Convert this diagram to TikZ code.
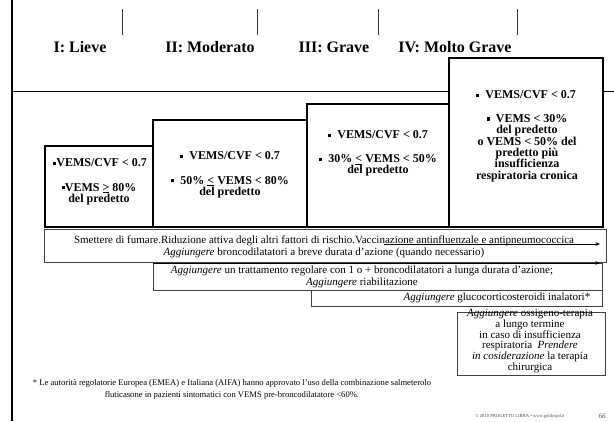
\documentclass[tikz,border=0pt]{standalone}
\usepackage{fontspec}
\setmainfont{Liberation Serif}
\usetikzlibrary{arrows.meta}
\newcommand{\sqb}{\rule[0.3ex]{0.27em}{0.27em}}
\newcommand{\ule}{\underline{<}}
\newcommand{\uge}{\underline{>}}
\begin{document}
\begin{tikzpicture}[x=1pt,y=-1pt,
  stagebox/.style={draw=black, line width=1.6pt, fill=white},
  treatbox/.style={draw=black!75, line width=0.7pt, fill=white},
  btxt/.style={font=\bfseries\fontsize{12}{11.4}\selectfont, align=center, inner sep=0pt},
  ttxt/.style={font=\fontsize{11}{12}\selectfont, align=center, inner sep=0pt},
  otxt/.style={font=\fontsize{11}{9.8}\selectfont, align=center, inner sep=0pt},
  fnote/.style={font=\fontsize{8.6}{12}\selectfont, align=center, inner sep=0pt},
  titletxt/.style={font=\bfseries\fontsize{16}{18}\selectfont, inner sep=0pt},
  tickline/.style={draw=black!80, line width=0.9pt},
  arr/.style={-{Stealth[length=4.5pt,width=3.5pt]}, line width=0.6pt}]
\useasboundingbox (0,0) rectangle (614,421);
% frame lines
\draw[line width=2pt] (12,0) -- (12,421);
\draw[line width=0.9pt] (12,91) -- (614,91);
% ticks
\foreach \x in {122,257,378,517} \draw[tickline] (\x,9) -- (\x,35);
% titles
\node[titletxt] (t1) at (80,47) {I: Lieve};
\node[titletxt] (t2) at (210,47) {II: Moderato};
\node[titletxt] (t3) at (334,47) {III: Grave};
\node[titletxt] (t4) at (455,47) {IV: Molto Grave};
% stage boxes
\draw[stagebox] (45,146) rectangle (153,227);
\draw[stagebox] (153,120) rectangle (307,227);
\draw[stagebox] (307,104) rectangle (449,227);
\draw[stagebox] (449,58) rectangle (603,227);
% stage texts
\node[btxt] (s1a) at (100,162.5) {\sqb VEMS/CVF < 0.7};
\node[btxt] (s1b) at (99,194) {\sqb VEMS \uge{} 80\%\\del predetto};
\node[btxt] (s2a) at (230,155.5) {\sqb\ \ VEMS/CVF < 0.7};
\node[btxt] (s2b) at (230,187) {\sqb\ \ 50\% \ule{} VEMS < 80\%\\del predetto};
\node[btxt] (s3a) at (378,135) {\sqb\ \ VEMS/CVF < 0.7};
\node[btxt] (s3b) at (378,165.5) {\sqb\ \ 30\% \ule{} VEMS < 50\%\\del predetto};
\node[btxt] (s4a) at (526,95) {\sqb\ \ VEMS/CVF < 0.7};
\node[btxt] (s4b) at (527,148) {\sqb\ \ VEMS < 30\%\\del predetto\\o VEMS < 50\% del\\predetto più\\insufficienza\\respiratoria cronica};
% treatment boxes
\draw[treatbox] (44,229) rectangle (606,262);
\draw[treatbox] (153,263) rectangle (602,290);
\draw[treatbox] (311,290) rectangle (602,306);
\draw[treatbox] (457,312) rectangle (605,375);
\node[ttxt] (r1) at (324,247) {Smettere di fumare.Riduzione attiva degli altri fattori di rischio.Vaccinazione antinfluenzale e antipneumococcica\\\textit{Aggiungere} broncodilatatori a breve durata d'azione (quando necessario)};
\node[ttxt] (r2) at (362,277) {\textit{Aggiungere} un trattamento regolare con 1 o + broncodilatatori a lunga durata d'azione;\\\textit{Aggiungere} riabilitazione};
\node[ttxt] (r3) at (497,298) {\textit{Aggiungere} glucocorticosteroidi inalatori*};
\node[otxt] (r4) at (530,341) {\textit{Aggiungere} ossigeno-terapia\\a lungo termine\\in caso di insufficienza\\respiratoria\ \ \textit{Prendere}\\\textit{in cosiderazione} la terapia\\chirurgica};
% arrows
\coordinate (a1s) at (384,244);
\coordinate (a1e) at (600,244);
\coordinate (a2s) at (153,263);
\coordinate (a2e) at (600,263);
\draw[arr] (a1s) -- (a1e);
\draw[arr] (a2s) -- (a2e);
% footnote
\node[fnote] (fn) at (232,389) {* Le autorità regolatorie Europea (EMEA) e Italiana (AIFA) hanno approvato l'uso della combinazione salmeterolo\\fluticasone in pazienti sintomatici con VEMS pre-broncodilatatore <60\%.};
\node[font=\fontsize{4.6}{5}\selectfont, inner sep=0pt, text=black!70] (cp) at (520,416) {© 2010 PROGETTO LIBRA • www.goldcopd.it};
\node[font=\itshape\fontsize{7}{8}\selectfont, inner sep=0pt, text=black!70] (pg) at (602,416) {66};
\end{tikzpicture}
\end{document}
